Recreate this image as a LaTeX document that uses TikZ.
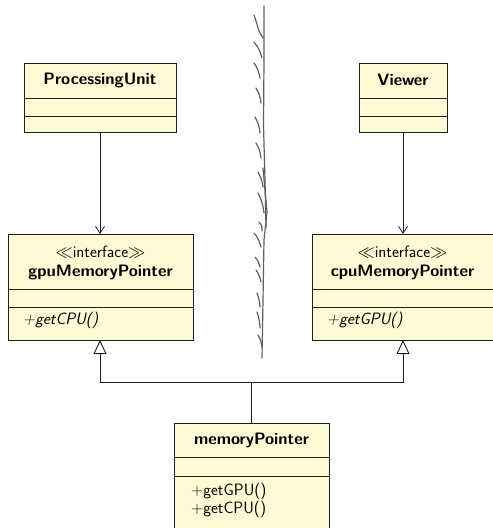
\documentclass[tikz,border=0pt]{standalone}
\usetikzlibrary{arrows.meta}
\definecolor{classfill}{RGB}{255,249,214}
\definecolor{classline}{RGB}{30,30,30}
\definecolor{sketch}{RGB}{95,95,95}
\newcommand{\umlsize}{\fontsize{16.5}{19}\selectfont}
\begin{document}
\begin{tikzpicture}[x=1pt,y=-1pt,
  font=\sffamily\umlsize,
  classbox/.style={draw=classline, fill=classfill, line width=0.9pt,
    inner sep=0pt, outer sep=0pt, anchor=north west},
  divider/.style={draw=classline, line width=0.9pt},
  classname/.style={font=\sffamily\bfseries\umlsize, inner sep=0pt},
  stereo/.style={inner sep=0pt},
  member/.style={inner sep=0pt, anchor=west},
  abstract/.style={member, font=\sffamily\itshape\umlsize},
  assoc/.style={draw=classline, line width=0.8pt, -{Straight Barb[length=7pt,width=9pt]}},
  inherit/.style={draw=classline, line width=0.9pt,
    -{Triangle[open,length=14pt,width=13pt,fill=white]}},
  sketchline/.style={draw=sketch, line width=1.2pt, line cap=round, line join=round},
  hatch/.style={draw=sketch, line width=1.2pt, line cap=round}]

\useasboundingbox (0,0) rectangle (493,528);

% ---- classes ----
\node[classbox, minimum width=152pt, minimum height=69pt] (pu) at (24,63) {};
\draw[divider] (24,98) -- (176,98);
\draw[divider] (24,116) -- (176,116);
\node[classname] (puname) at (100,80) {ProcessingUnit};

\node[classbox, minimum width=88pt, minimum height=69pt] (vw) at (359,63) {};
\draw[divider] (359,98) -- (447,98);
\draw[divider] (359,116) -- (447,116);
\node[classname] (vwname) at (403,80) {Viewer};

\node[classbox, minimum width=185pt, minimum height=106pt] (gpu) at (8,234) {};
\draw[divider] (8,289) -- (193,289);
\draw[divider] (8,307) -- (193,307);
\node[stereo] (gpust) at (100.5,252) {$\ll$interface$\gg$};
\node[classname] (gpuname) at (100.5,272) {gpuMemoryPointer};
\node[abstract] (gpuop) at (23,320) {+getCPU()};

\node[classbox, minimum width=181pt, minimum height=106pt] (cpu) at (312,234) {};
\draw[divider] (312,289) -- (493,289);
\draw[divider] (312,307) -- (493,307);
\node[stereo] (cpust) at (402.5,252) {$\ll$interface$\gg$};
\node[classname] (cpuname) at (402.5,272) {cpuMemoryPointer};
\node[abstract] (cpuop) at (327,320) {+getGPU()};

\node[classbox, minimum width=155pt, minimum height=110pt] (mp) at (174,423) {};
\draw[divider] (174,457) -- (329,457);
\draw[divider] (174,476) -- (329,476);
\node[classname] (mpname) at (251.5,440) {memoryPointer};
\node[member] (mpop1) at (191,491) {+getGPU()};
\node[member] (mpop2) at (191,509) {+getCPU()};

% ---- associations ----
\draw[assoc] (pu.south) -- (gpu.north -| pu.south);
\draw[assoc] (vw.south) -- (cpu.north -| vw.south);

% ---- realisation ----
\coordinate (joint) at (251.5,382);
\draw[inherit] (mp.north) -- (joint) -| (gpu.south -| pu.south);
\draw[inherit] (joint) -| (cpu.south -| vw.south);

% ---- hand-drawn separator ----
\draw[sketchline] (264,6) -- (264,60) -- (263.5,125) -- (265,180) -- (266,228);
\draw[sketchline] (263,168) -- (267,212) -- (264,240) -- (263,300) -- (262,358);
\draw[hatch] (254,15) to[out=-70,in=110] (257,24) to[out=-80,in=120] (263,38);
\draw[hatch] (254,42) to[bend left=12] (262,58);
\draw[hatch] (254,63) to[bend left=12] (260,78);
\draw[hatch] (256,88) to[bend left=12] (261,103);
\draw[hatch] (255,117) to[bend left=12] (260,133);
\draw[hatch] (256,143) to[bend left=12] (261,158);
\draw[hatch] (258,172) to[bend left=10] (263,187);
\draw[hatch] (258,193) to[bend left=10] (264,213);
\draw[hatch] (259,222) to[bend left=25] (262,231);
\draw[hatch] (254,233) to[bend left=12] (261,247);
\draw[hatch] (255,257) to[bend left=12] (260,267);
\draw[hatch] (256,270) to[bend left=12] (261,282);
\draw[hatch] (257,293) to[bend left=8] (260,307);
\draw[hatch] (257,312) to[bend left=8] (260,328);
\draw[hatch] (258,335) to[bend left=10] (262,347);
\end{tikzpicture}
\end{document}
